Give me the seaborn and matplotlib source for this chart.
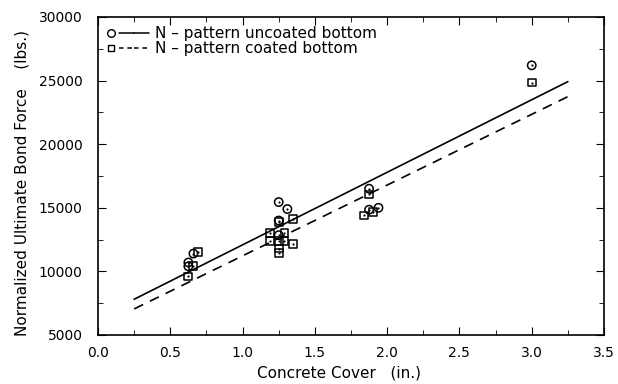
import matplotlib
matplotlib.use("Agg")
import matplotlib.pyplot as plt
from matplotlib.lines import Line2D
from matplotlib.legend_handler import HandlerTuple
from matplotlib.ticker import MultipleLocator, FormatStrFormatter
import seaborn as sns
import pandas as pd

# ---- data ----
uncoated_x = [0.625, 0.625, 0.66, 1.25, 1.25, 1.25, 1.31, 1.875, 1.875, 1.94, 3.0]
uncoated_y = [10700, 10400, 11400, 15450, 14000, 12850, 14900, 16500, 14850, 15000, 26200]
coated_x = [0.625, 0.66, 0.69, 1.19, 1.19, 1.25, 1.25, 1.25, 1.25, 1.29, 1.29,
            1.35, 1.35, 1.84, 1.875, 1.9, 3.0]
coated_y = [9600, 10400, 11500, 13050, 12400, 13900, 12400, 11800, 11450, 13050, 12400,
            14100, 12150, 14400, 16050, 14650, 24850]
fit_x = [0.25, 3.25]
uncoated_fit = [7810, 24920]
coated_fit = [7050, 23740]
label_uncoated = "N \u2013 pattern uncoated bottom"
label_coated = "N \u2013 pattern coated bottom"

sns.set_style("ticks")
plt.rcParams["font.family"] = ["DejaVu Sans"]
plt.rcParams.update({
    "xtick.direction": "in", "ytick.direction": "in",
    "xtick.top": True, "ytick.right": True,
    "xtick.major.size": 6, "ytick.major.size": 6,
    "xtick.minor.size": 3.5, "ytick.minor.size": 3.5,
    "axes.linewidth": 1.2,
    "text.color": "black", "axes.labelcolor": "black",
    "xtick.color": "black", "ytick.color": "black", "axes.edgecolor": "black",
})

L, R, T, B = 98, 604, 17, 335
fig = plt.figure(figsize=(6.18, 3.84), dpi=100)
ax = fig.add_axes([L / 618, 1 - B / 384, (R - L) / 618, (B - T) / 384])

df_u = pd.DataFrame({"x": uncoated_x, "y": uncoated_y})
df_c = pd.DataFrame({"x": coated_x, "y": coated_y})
df_fit = pd.DataFrame({"x": fit_x, "u": uncoated_fit, "c": coated_fit})

sns.lineplot(data=df_fit, x="x", y="u", color="black", lw=1.2, ax=ax)
sns.lineplot(data=df_fit, x="x", y="c", color="black", lw=1.2, linestyle=(0, (6, 4.5)), ax=ax)

sns.scatterplot(data=df_u, x="x", y="y", marker="o", s=36, facecolors="none",
                edgecolor="black", linewidth=1.1, ax=ax, zorder=3)
sns.scatterplot(data=df_c, x="x", y="y", marker="s", s=32, facecolors="none",
                edgecolor="black", linewidth=1.1, ax=ax, zorder=3)
sns.scatterplot(data=pd.concat([df_u, df_c]), x="x", y="y", marker="o", s=2.5,
                color="black", linewidth=0, ax=ax, zorder=4)

ax.set_xlim(0, 3.5)
ax.set_ylim(5000, 30000)
ax.xaxis.set_major_locator(MultipleLocator(0.5))
ax.xaxis.set_minor_locator(MultipleLocator(0.25))
ax.yaxis.set_major_locator(MultipleLocator(5000))
ax.yaxis.set_minor_locator(MultipleLocator(2500))
ax.xaxis.set_major_formatter(FormatStrFormatter("%.1f"))
ax.tick_params(axis="x", which="both", pad=8, labelsize=10)
ax.tick_params(axis="y", which="both", pad=11, labelsize=10)
for s in ax.spines.values():
    s.set_visible(True)

ax.set_xlabel("Concrete Cover   (in.)", fontsize=11)
ax.xaxis.set_label_coords((339 - L) / (R - L), -(373 - B) / (B - T))
ax.xaxis.label.set_va("center")
ax.set_ylabel("Normalized Ultimate Bond Force    (lbs.)", fontsize=11)
ax.yaxis.set_label_coords(-(L - 22) / (R - L), (B - 183) / (B - T))
ax.yaxis.label.set_va("center")

mk_u = Line2D([], [], marker="o", ls="none", mfc="none", mec="black", ms=5.5, mew=1)
mk_c = Line2D([], [], marker="s", ls="none", mfc="none", mec="black", ms=5, mew=1)
ln_u = Line2D([], [], color="black", lw=1.1)
ln_c = Line2D([], [], color="black", lw=1.1, ls=(0, (3, 2.5)))
ax.legend([(mk_u, ln_u, ln_u), (mk_c, ln_c, ln_c)], [label_uncoated, label_coated],
          handler_map={tuple: HandlerTuple(ndivide=None, pad=0)},
          loc="upper left", frameon=False, fontsize=11, handlelength=3.0,
          handletextpad=0.35, labelspacing=0.0, borderaxespad=0.0,
          bbox_to_anchor=(0.0, 1 - 4 / (B - T)), borderpad=0.35)

fig.savefig("out.png", dpi=100)
